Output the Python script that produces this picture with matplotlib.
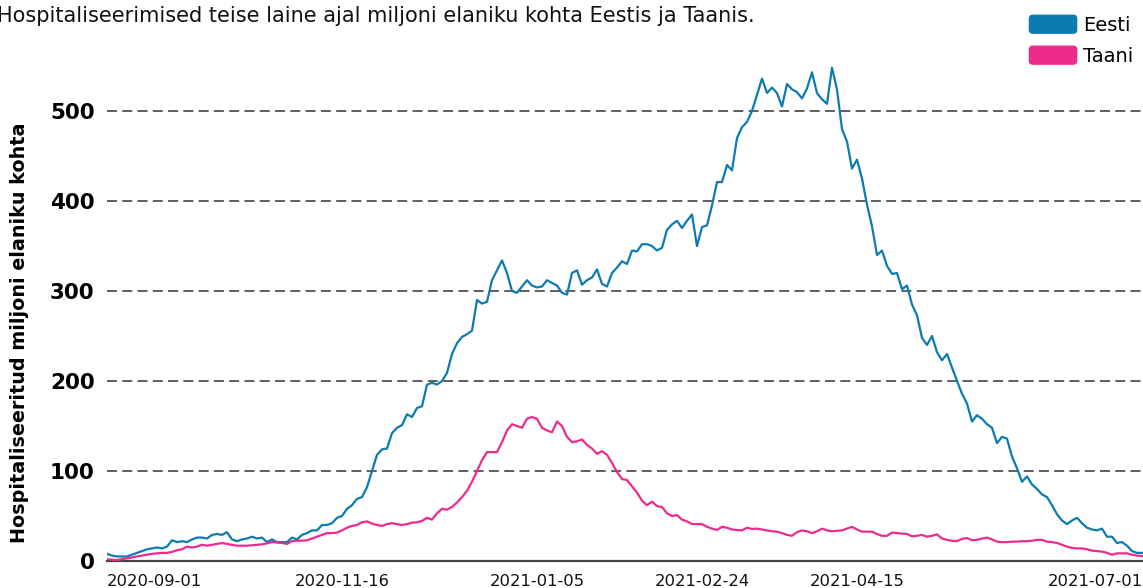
import matplotlib.pyplot as plt
from matplotlib.patches import Patch, FancyBboxPatch
from matplotlib.legend_handler import HandlerPatch
import numpy as np

plt.rcParams['font.family'] = ['DejaVu Sans']

# hospitalised per million inhabitants, sampled evenly along the x axis
eesti = [8, 6, 5, 5, 5, 7, 9, 11, 13, 14,
         15, 14, 16, 23, 21, 22, 21, 24, 26, 26,
         25, 29, 30, 29, 32, 24, 22, 24, 25, 27,
         25, 26, 21, 24, 21, 21, 21, 26, 24, 29,
         31, 34, 34, 40, 40, 42, 48, 50, 58, 62,
         69, 71, 82, 100, 118, 124, 125, 142, 148, 151,
         163, 160, 170, 172, 196, 198, 196, 200, 209, 230,
         242, 249, 252, 256, 290, 286, 288, 312, 323, 334,
         320, 300, 298, 305, 312, 306, 304, 305, 312, 309,
         306, 298, 296, 320, 323, 307, 312, 315, 324, 308,
         305, 320, 326, 333, 330, 345, 344, 352, 352, 350,
         345, 348, 368, 374, 378, 370, 378, 385, 350, 371,
         373, 395, 421, 421, 440, 434, 470, 482, 488, 500,
         518, 536, 520, 526, 520, 505, 530, 524, 521, 514,
         525, 543, 520, 513, 508, 548, 524, 480, 466, 436,
         446, 425, 396, 372, 340, 345, 328, 319, 320, 302,
         306, 285, 273, 248, 240, 250, 232, 223, 230, 215,
         200, 186, 175, 155, 162, 158, 152, 148, 131, 138,
         136, 116, 103, 88, 94, 85, 80, 74, 71, 62,
         52, 45, 41, 45, 48, 42, 37, 35, 34, 36,
         27, 27, 20, 21, 17, 11, 9, 9]

taani = [2, 1.5, 1, 2, 3, 4, 5, 6, 7, 8,
         8.5, 9, 9, 10, 12, 13, 16, 15, 16, 18,
         17, 18, 19, 20, 19, 18, 17, 17, 17, 17.5,
         18, 18.5, 19.6, 21, 20.5, 20, 19, 22, 22.6, 22.6,
         23, 25, 27, 29, 31, 31, 31.5, 34, 37, 39,
         40, 43, 44, 41.5, 40, 39, 41, 42, 41, 40,
         41, 42.6, 43, 44.5, 48, 46, 53, 58, 57, 60,
         65, 71, 78, 88, 100, 112, 121, 121, 121, 132,
         145, 152, 150, 148, 158, 160, 158, 148, 145, 143,
         155, 150, 138, 132, 133, 135, 129, 125, 119, 122,
         118, 109, 99, 91, 90, 83, 76, 67, 62, 66,
         61, 60, 53, 50, 51, 46, 44, 41, 41, 41,
         38, 36, 34.5, 38, 37, 35, 34.5, 34, 37, 35.5,
         36, 35, 34, 33, 32.6, 31, 29, 28, 32, 34,
         33, 31, 33, 36, 34, 33, 33.5, 34, 36, 38,
         35, 32.6, 32.6, 32.6, 30, 28, 28, 31.5, 31, 30.5,
         30, 27.5, 28, 29, 27, 28, 29.6, 25, 23.5, 22.5,
         22, 24.5, 25.5, 23, 23.5, 25, 26, 24, 21.5, 21,
         21, 21.5, 21.5, 22, 22, 22.5, 23.5, 23.5, 21.5, 21,
         20, 18, 16, 14.5, 14, 14, 13, 11.5, 11, 10.5,
         9, 7, 8.5, 8.5, 8.5, 7, 6, 5.5]

tick_idx = [0, 47, 86, 119, 150, 207.2]
tick_labels = ['2020-09-01', '2020-11-16', '2021-01-05', '2021-02-24', '2021-04-15', '2021-07-01']

blue = '#0c7bb0'
pink = '#ee2a8c'

fig = plt.figure(figsize=(11.43, 5.88), dpi=100)
ax = fig.add_axes([107 / 1143, 27 / 588, 1036 / 1143, 513 / 588])

x = np.arange(len(eesti))
ax.plot(x, eesti, color=blue, lw=1.6, zorder=3)
ax.plot(x, taani, color=pink, lw=1.6, zorder=3)

ax.set_xlim(0, 207.2)
ax.set_ylim(0, 570)
ax.set_yticks([0, 100, 200, 300, 400, 500])
ax.tick_params(axis='y', length=0, pad=9, labelsize=15.5)
for t in ax.get_yticklabels():
    t.set_fontweight('bold')
ax.yaxis.grid(True, linestyle=(0, (6.5, 3.5)), color='#333333', lw=1.1)
ax.set_axisbelow(True)

ax.set_xticks(tick_idx)
ax.set_xticklabels(tick_labels)
ax.tick_params(axis='x', length=0, pad=9, labelsize=11.8, colors='#111111')
xl = ax.get_xticklabels()
xl[0].set_ha('left')
xl[-1].set_ha('right')

for s in ['top', 'right', 'left']:
    ax.spines[s].set_visible(False)
ax.spines['bottom'].set_color('#444444')
ax.spines['bottom'].set_linewidth(1.6)

fig.text(20 / 1143, 1 - 333 / 588, 'Hospitaliseeritud miljoni elaniku kohta',
         rotation=90, ha='center', va='center', fontsize=13.8, fontweight='bold')
fig.text(-3 / 1143, 1 - 16 / 588,
         'Hospitaliseerimised teise laine ajal miljoni elaniku kohta Eestis ja Taanis.',
         ha='left', va='center', fontsize=15, color='#111111')


class RoundHandler(HandlerPatch):
    def create_artists(self, legend, orig_handle, xdescent, ydescent, width,
                       height, fontsize, trans):
        p = FancyBboxPatch((-xdescent, -ydescent), width, height,
                           boxstyle='round,pad=0,rounding_size=3',
                           fc=orig_handle.get_facecolor(), ec='none',
                           transform=trans)
        return [p]


handles = [Patch(facecolor=blue), Patch(facecolor=pink)]
leg = fig.legend(handles, ['Eesti', 'Taani'], loc='upper right',
                 bbox_to_anchor=(1 + 5 / 1143, 1.0), frameon=False, fontsize=14,
                 handlelength=2.5, handleheight=1.15, handletextpad=0.3,
                 labelspacing=0.55, borderaxespad=0.35,
                 handler_map={Patch: RoundHandler()})

fig.savefig('out.png', dpi=100)
